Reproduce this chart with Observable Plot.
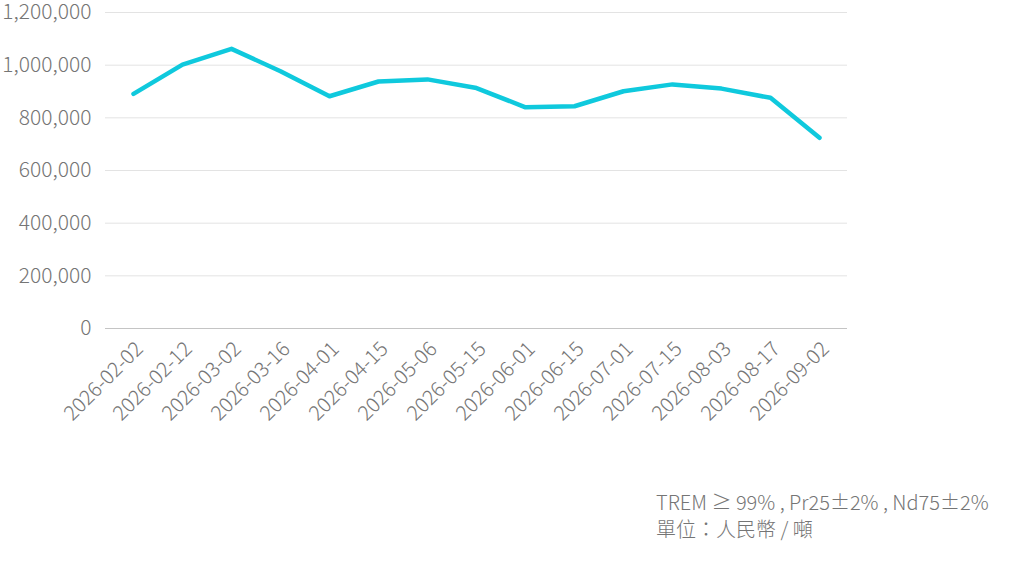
<!DOCTYPE html>
<html>
<head>
<meta charset="utf-8">
<script src="https://cdn.jsdelivr.net/npm/d3@7"></script>
<script src="https://cdn.jsdelivr.net/npm/@observablehq/plot@0.6"></script>
<style>
  html, body { margin: 0; padding: 0; background: #fff; }
  #wrap { position: relative; width: 1011px; height: 562px; font-family: "Noto Sans CJK TC", "Noto Sans", sans-serif; overflow: hidden; }
  #chart { position: absolute; left: 0; top: -12px; }
  #caption { position: absolute; left: 656px; top: 488px; font-size: 20px; font-weight: 300; line-height: 27px; color: #757575; white-space: nowrap; }
</style>
</head>
<body>
<div id="wrap">
  <div id="chart"></div>
  <div id="caption">TREM ≥ 99% , Pr25±2% , Nd75±2%<br>單位：人民幣 / 噸</div>
</div>
<script>
const dates = ["2026-02-02","2026-02-12","2026-03-02","2026-03-16","2026-04-01","2026-04-15","2026-05-06","2026-05-15","2026-06-01","2026-06-15","2026-07-01","2026-07-15","2026-08-03","2026-08-17","2026-09-02"];
const prices = [891000, 1002000, 1062000, 977000, 882000, 938000, 946000, 913000, 840000, 844000, 901000, 927000, 911000, 876000, 724000];
const yTicks = [0, 200000, 400000, 600000, 800000, 1000000, 1200000];

const data = dates.map((d, i) => ({date: d, price: prices[i]}));

const chart = Plot.plot({
  width: 1011,
  height: 452,
  marginLeft: 105,
  marginRight: 164,
  marginTop: 24,
  marginBottom: 112,
  style: {fontFamily: '"Noto Sans CJK TC", "Noto Sans", sans-serif', fontSize: "20px", fontWeight: 300, color: "#757575", background: "#fff"},
  x: {type: "point", domain: dates, padding: 0.5, label: null},
  y: {domain: [0, 1200000], label: null},
  marks: [
    Plot.gridY(yTicks, {stroke: "#e3e3e3", strokeOpacity: 1}),
    Plot.ruleY([0], {stroke: "#c4c4c4"}),
    Plot.axisY(yTicks, {tickSize: 0, tickPadding: 14, tickFormat: d3.format(","), fill: "#757575", fontSize: 21, label: null}),
    Plot.axisX({tickSize: 0, tickRotate: -45, tickPadding: 9, dx: 6, dy: 8, fill: "#757575", fontSize: 20.5, label: null}),
    Plot.line(data, {x: "date", y: "price", stroke: "#0fc9dd", strokeWidth: 4.5, strokeLinejoin: "round", strokeLinecap: "round"})
  ]
});
document.getElementById("chart").appendChild(chart);
</script>
</body>
</html>
